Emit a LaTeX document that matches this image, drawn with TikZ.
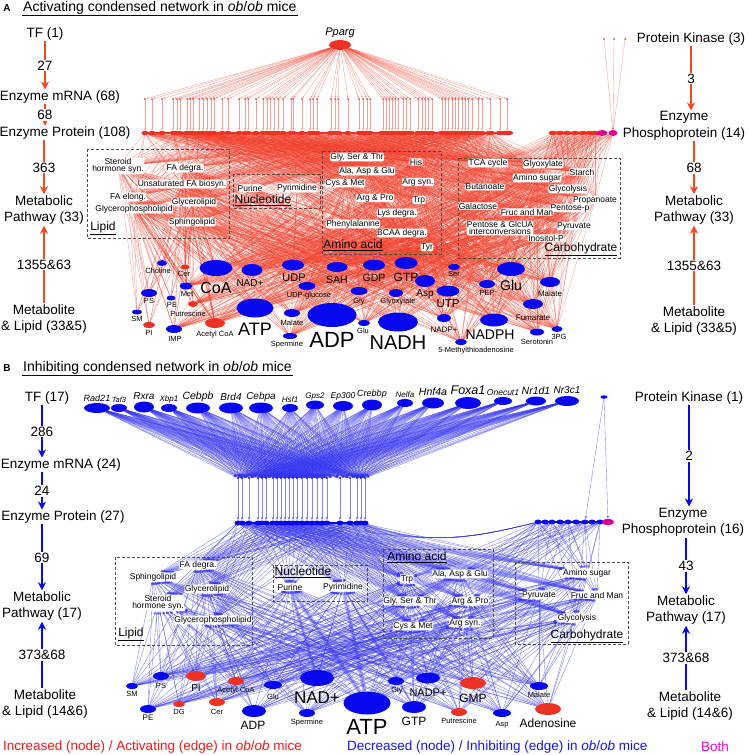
\documentclass[tikz,border=0pt]{standalone}
\usepackage{fontspec}
\setmainfont{Liberation Sans}
\usetikzlibrary{shapes.geometric,arrows.meta,backgrounds}

\definecolor{upred}{RGB}{236,50,36}
\definecolor{dnblue}{RGB}{8,8,238}
\definecolor{bothpink}{RGB}{222,0,140}
\definecolor{arrowred}{RGB}{246,72,32}
\definecolor{edgered}{RGB}{240,60,40}
\definecolor{edgeblue}{RGB}{50,50,240}
\definecolor{legred}{RGB}{250,20,20}
\definecolor{legblue}{RGB}{20,20,250}
\definecolor{legpink}{RGB}{235,0,215}

\tikzset{
  collab/.style={font=\fontsize{13.5}{16.5}\selectfont, align=center, inner sep=1pt},
  num/.style={font=\fontsize{13.5}{15}\selectfont, fill=white, inner sep=1pt},
  arrA/.style={draw=arrowred, line width=1.1pt, -{Stealth[length=8pt,width=8pt,inset=2.5pt]}},
  arrB/.style={draw=dnblue, line width=1.1pt, -{Stealth[length=8pt,width=8pt,inset=2.5pt]}},
  pw/.style={font=\fontsize{8.5}{7.5}\selectfont, fill=white, inner sep=0.4pt, rounded corners=2pt, align=center},
  grp/.style={draw=black!70, dash pattern=on 3pt off 2pt, line width=0.6pt},
  grplab/.style={font=\fontsize{12}{13}\selectfont, inner sep=0pt},
  met/.style={ellipse, inner sep=0pt, draw=none},
  upm/.style={met, fill=upred},
  dnm/.style={met, fill=dnblue},
  mtxt/.style={inner sep=0pt},
  tftxt/.style={inner sep=0pt, font=\itshape},
  mrnaA/.style={circle, fill=upred, inner sep=0pt, minimum size=2pt},
  protA/.style={ellipse, fill=upred, inner sep=0pt, minimum height=4.5pt, minimum width=7pt},
  mrnaB/.style={circle, fill=dnblue, inner sep=0pt, minimum size=2.4pt},
  protB/.style={ellipse, fill=dnblue, inner sep=0pt, minimum height=5pt, minimum width=7pt},
  pinkp/.style={ellipse, fill=bothpink, inner sep=0pt, minimum height=6pt, minimum width=11pt},
  eA/.style={draw=edgered, line width=0.35pt, opacity=0.5},
  eAt/.style={eA, -{Latex[length=2pt,width=1.6pt]}},
  eB/.style={draw=edgeblue, line width=0.4pt, opacity=0.6},
  eBt/.style={eB, -{Latex[length=3pt,width=2.4pt]}}
}

\def\pathA{aSter,aFAdeg,aUFA,aFAel,aGlyc,aGPL,aSph,aPur,aPyr,aGST,aHis,aAAG,aCM,aArgS,aAP,aTrp,aLys,aPhe,aBCAA,aTyr,aTCA,aGlyox,aStar,aAmS,aBut,aGlycol,aProp,aGal,aPenP,aFM,aPGI,aPyru,aIno}
\def\lippwA{aSter,aFAdeg,aUFA,aFAel,aGlyc,aGPL,aSph}
\def\carbA{aTCA,aGlyox,aStar,aAmS,aBut,aGlycol,aProp,aGal,aPenP,aFM,aPGI,aPyru,aIno}
\def\coreA{aCoA,aATP,aNAD,aUDP,aUDPG,aSAH,aGDP,aGTP,aGly,aGlyx,aAsp,aSer,aUTP,aMalL,aADP,aSpm,aGluS,aNADH,aNADPp,aMTA,aGluB,aPEP,aMalR,aFum,aNADPH,aSero,a3PG,aMet,aPut,aIMP,aAcCoA}
\def\lipmetA{aCho,aCer,aPS,aPE,aSM,aPI,aAcCoA,aMet,aCoA}
\def\pathB{bFA,bSph,bGlyc,bSter,bGPL,bPur,bPyr,bTrp,bAAG,bGST,bAP,bCM,bArgS,bAmS,bPyru,bFM,bGlycol}
\def\rightpwB{bTrp,bAAG,bGST,bAP,bCM,bArgS,bAmS,bPyru,bFM,bGlycol}
\def\metB{bSM,bPS,bPI,bAcCoA,bPE,bDG,bCer,bADP,bGlu,bNAD,bSpm,bATP,bGly,bNADPp,bGTP,bGMP,bPut,bAsp,bMal,bAdo}
\def\tfB{Rad21,Taf3,Rxra,Xbp1,Cebpb,Brd4,Cebpa,Hsf1,Gps2,Ep300,Crebbp,Nelfa,Hnf4a,Foxa1,Onecut1,Nr1d1,Nr3c1}

\begin{document}
\begin{tikzpicture}[x=1pt, y=-1pt]
\useasboundingbox (0,0) rectangle (748,755);

% ---------------- panel A ----------------
\node[font=\fontsize{10}{12}\selectfont\bfseries] (tagA) at (7,8) {A};
\node[anchor=west, font=\fontsize{14}{16}\selectfont, inner sep=1pt] (titA) at (22,8) {Activating condensed network in \textit{ob}/\textit{ob} mice};
\draw[line width=0.6pt] (titA.south west) -- (titA.south east);

% left column
\node[collab] (tfA) at (45,34) {TF (1)};
\node[collab] (mrA) at (60,97) {Enzyme mRNA (68)};
\node[collab] (prA) at (65,133) {Enzyme Protein (108)};
\node[collab] (pwA) at (44,210) {Metabolic\\Pathway (33)};
\node[collab] (mtA) at (44,319) {Metabolite\\\& Lipid (33\&5)};
\draw[arrA] (tfA.south) -- node[num]{27} (tfA.south |- mrA.north);
\draw[arrA] (tfA.south |- mrA.south) -- node[num]{68} (tfA.south |- prA.north);
\draw[arrA] (pwA.north |- prA.south) -- node[num]{363} (pwA.north);
\draw[arrA] (pwA.south |- mtA.north) -- node[num]{1355\&63} (pwA.south);

% right column
\node[collab] (pkA) at (691,39) {Protein Kinase (3)};
\node[collab] (ppA) at (684,126) {Enzyme\\Phosphoprotein (14)};
\node[collab] (pwAr) at (694,210) {Metabolic\\Pathway (33)};
\node[collab] (mtAr) at (694,321) {Metabolite\\\& Lipid (33\&5)};
\draw[arrA] (pkA.south) -- node[num]{3} (pkA.south |- ppA.north);
\draw[arrA] (pwAr.north |- ppA.south) -- node[num]{68} (pwAr.north);
\draw[arrA] (mtAr.north) -- node[num]{1355\&63} (pwAr.south);

% TF, mRNA and protein rows
\node[upm, minimum width=22pt, minimum height=10pt] (pparg) at (340,45) {};
\node[tftxt, font=\fontsize{11}{12}\selectfont\itshape] (ppargt) at (340,33) {Pparg};
\foreach \x/\w [count=\i] in {145/7,152/7,162/7,173/7,177/7,180/7,187/9,190/12,193/9,199/7,203/7,207/7,211/7,214/7,222/7,228/7,239/7,245/7,248/7,256/7,263/7,267/7,270/7,274/7,278/7,283/7,291/7,293/7,302/7,310/7,313/7,317/7,331/9,335/12,338/9,348/7,359/7,363/7,367/7,370/7,383/11,386/9,389/7,392/7,395/7,398/7,403/11,406/9,410/11,418/7,422/7,425/7,428/7,432/7,442/9,445/11,448/9,452/7,455/7,458/7,462/7,465/7,468/7,472/7,478/11,482/7,490/11,500/9,507/13} {
  \node[mrnaA] (mA\i) at (\x,99) {};
  \node[protA, minimum width=\w] (pA\i) at (\x,133) {};
}
\draw[upred, line width=2.5pt] (pA1.center) -- (pA69.center);
\foreach \x [count=\i] in {553,560,567,575,583,590,595} {
  \node[protA, minimum width=9pt] (rA\i) at (\x,133) {};
}
\draw[upred, line width=2pt] (rA1.center) -- (rA7.center);
\node[pinkp] (ppk1) at (602,133) {};
\node[pinkp, minimum width=9pt] (ppk2) at (613,133) {};
\foreach \x [count=\i] in {604,614,625} {
  \node[mrnaA] (kA\i) at (\x,39) {};
}

% groups A
\draw[grp] (87,149) rectangle (229,238);
\node[grplab] (lipA) at (103,228) {\underline{Lipid}};
\draw[grp] (233,174) rectangle (320,208);
\node[grplab] (nucA) at (263,200) {\underline{Nucleotide}};
\draw[grp] (322,151) rectangle (441,254);
\node[grplab] (amiA) at (353,245) {\underline{Amino acid}};
\draw[grp] (458,158) rectangle (620,258);
\node[grplab] (carA) at (581,249) {\underline{Carbohydrate}};

% pathways A
\node[pw] (aSter) at (118,166) {Steroid\\hormone syn.};
\node[pw] (aFAdeg) at (185,168) {FA degra.};
\node[pw] (aUFA) at (182,184) {Unsaturated FA biosyn.};
\node[pw] (aFAel) at (128,197) {FA elong.};
\node[pw] (aGlyc) at (194,202) {Glycerolipid};
\node[pw] (aGPL) at (134,209) {Glycerophospholipid};
\node[pw] (aSph) at (192,222) {Sphingolipid};
\node[pw] (aPur) at (250,188) {Purine};
\node[pw] (aPyr) at (297,188) {Pyrimidine};
\node[pw] (aGST) at (357,157) {Gly, Ser \& Thr};
\node[pw] (aHis) at (416,162) {His};
\node[pw] (aAAG) at (367,171) {Ala, Asp \& Glu};
\node[pw] (aCM) at (345,183) {Cys \& Met};
\node[pw] (aArgS) at (418,182) {Arg syn.};
\node[pw] (aAP) at (375,198) {Arg \& Pro};
\node[pw] (aTrp) at (419,200) {Trp};
\node[pw] (aLys) at (397,213) {Lys degra.};
\node[pw] (aPhe) at (353,224) {Phenylalanine};
\node[pw] (aBCAA) at (402,233) {BCAA degra.};
\node[pw] (aTyr) at (427,247) {Tyr};
\node[pw] (aTCA) at (488,163) {TCA cycle};
\node[pw] (aGlyox) at (543,164) {Glyoxylate};
\node[pw] (aStar) at (582,172) {Starch};
\node[pw] (aAmS) at (537,178) {Amino sugar};
\node[pw] (aBut) at (485,187) {Butanoate};
\node[pw] (aGlycol) at (568,189) {Glycolysis};
\node[pw] (aProp) at (595,200) {Propanoate};
\node[pw] (aGal) at (478,206) {Galactose};
\node[pw] (aPenP) at (570,208) {Pentose-p};
\node[pw] (aFM) at (527,212) {Fruc and Man};
\node[pw] (aPGI) at (500,228) {Pentose \& GlcUA\\interconversions};
\node[pw] (aPyru) at (574,226) {Pyruvate};
\node[pw] (aIno) at (546,238) {Inositol-P};

% metabolites A
\foreach \n/\x/\y/\w/\h/\c/\lx/\ly/\f/\t in {
  aCho/162/263/10/6/dnm/158/271/7.5/Choline, aCer/185/267/9/5/upm/184/274/7.5/Cer,
  aPS/149/293/16/8/dnm/149/301/7.5/PS, aPE/171/298/9/5/dnm/172/305/7.5/PE,
  aMet/186/286/13/7/dnm/187/294/7.5/Met, aCoA/216/268/33/16/dnm/216/288/16/CoA,
  aSM/137/312/10/5/dnm/137/319/7.5/SM, aPut/193/304/10/6/upm/188/314/7.5/Putrescine,
  aPI/149/325/12/6/upm/149/333/7.5/PI, aIMP/174/329/16/8/dnm/175/339/7.5/IMP,
  aAcCoA/215/323/20/10/upm/215/335/7.5/Acetyl CoA, aNAD/252/270/21/12/dnm/250/283/10/NAD+,
  aATP/255/308/37/19/dnm/255/329/18/ATP, aUDP/293/265/22/11/dnm/294/278/11/UDP,
  aUDPG/307/286/17/8/dnm/309/296/7.5/UDP-glucose, aSAH/337/267/21/10/dnm/337/280/10.5/SAH,
  aGDP/374/265/22/11/dnm/374/278/10.5/GDP, aGTP/406/263/23/12/dnm/406/277/12/GTP,
  aGly/359/291/17/8/dnm/359/302/7.5/Gly, aGlyx/396/293/14/8/dnm/398/302/7.5/Glyoxylate,
  aAsp/425/281/20/12/dnm/425/294/10/Asp, aSer/454/267/12/6/dnm/454/274/7.5/Ser,
  aUTP/448/291/23/11/dnm/448/304/11.5/UTP, aMalL/292/313/16/8/dnm/292/323/7.5/Malate,
  aADP/332/315/49/24/dnm/332/340/22/ADP, aSpm/290/336/14/6/dnm/287/345/7.5/Spermine,
  aGluS/364/323/12/6/dnm/363/331/7.5/Glu, aNADH/398/322/40/19/dnm/398/343/20/NADH,
  aNADPp/444/318/14/8/dnm/444/330/8/NADP+, aMTA/461/342/12/6/dnm/476/351/7.5/5-Methylthioadenosine,
  aGluB/511/269/28/14/dnm/511/285/14/Glu, aPEP/487/284/16/8/dnm/487/293/7.5/PEP,
  aMalR/550/282/20/10/dnm/550/294/8/Malate, aFum/533/304/20/10/dnm/533/318/8/Fumarate,
  aNADPH/494/320/28/13/dnm/490/335/14/NADPH, aSero/537/332/14/7/dnm/537/342/7.5/Serotonin,
  a3PG/557/329/11/6/dnm/559/337/7.5/3PG} {
  \node[\c, minimum width=\w, minimum height=\h] (\n) at (\x,\y) {};
  \node[mtxt, font=\fontsize{\f}{\f}\selectfont] (\n t) at (\lx,\ly) {\t};
}

% edges A
\begin{scope}[on background layer]
  \foreach \i in {1,...,69} {
    \draw[eAt] (pparg) -- (mA\i);
    \draw[eAt] (mA\i) -- (pA\i);
  }
  \foreach \i in {1,2,3} \draw[eAt] (kA\i) -- (ppk2);
  \foreach \i in {1,4,...,69} {
    \foreach \p in \pathA \draw[eA] (pA\i) -- (\p);
  }
  \foreach \i in {1,...,7} {
    \foreach \p in \carbA \draw[eA] (rA\i) -- (\p);
  }
  \foreach \p in \carbA {
    \draw[eA] (ppk1) -- (\p);
    \draw[eA] (ppk2) -- (\p);
  }
  \foreach \m in \coreA {
    \foreach \p in \pathA \draw[eA] (\m) -- (\p);
  }
  \foreach \m in \lipmetA {
    \foreach \p in \lippwA \draw[eA] (\m) -- (\p);
  }
\end{scope}

% ---------------- panel B ----------------
\node[font=\fontsize{10}{12}\selectfont\bfseries] (tagB) at (7,368) {B};
\node[anchor=west, font=\fontsize{14}{16}\selectfont, inner sep=1pt] (titB) at (22,368) {Inhibiting condensed network in \textit{ob}/\textit{ob} mice};
\draw[line width=0.6pt] (titB.south west) -- (titB.south east);

% left column
\node[collab] (tfB) at (47,398) {TF (17)};
\node[collab] (mrB) at (61,465) {Enzyme mRNA (24)};
\node[collab] (prB) at (63,517) {Enzyme Protein (27)};
\node[collab] (pwB) at (42,606) {Metabolic\\Pathway (17)};
\node[collab] (mtB) at (45,704) {Metabolite\\\& Lipid (14\&6)};
\draw[arrB] (tfB.south -| pwB.north) -- node[num]{286} (pwB.north |- mrB.north);
\draw[arrB] (pwB.north |- mrB.south) -- node[num]{24} (pwB.north |- prB.north);
\draw[arrB] (pwB.north |- prB.south) -- node[num]{69} (pwB.north);
\draw[arrB] (pwB.south |- mtB.north) -- node[num]{373\&68} (pwB.south);

% right column
\node[collab] (pkB) at (689,398) {Protein Kinase (1)};
\node[collab] (ppB) at (683,522) {Enzyme\\Phosphoprotein (16)};
\node[collab] (pwBr) at (686,610) {Metabolic\\Pathway (17)};
\node[collab] (mtBr) at (690,706) {Metabolite\\\& Lipid (14\&6)};
\draw[arrB] (pkB.south) -- node[num]{2} (pkB.south |- ppB.north);
\draw[arrB] (pwBr.north |- ppB.south) -- node[num]{43} (pwBr.north);
\draw[arrB] (pwBr.south |- mtBr.north) -- node[num]{373\&68} (pwBr.south);

% TF nodes B
\foreach \n/\x/\y/\w/\h/\f in {Rad21/97/408/26/10/9, Taf3/119/408/16/8/7.5, Rxra/144/407/20/11/10,
  Xbp1/169/408/16/8/8, Cebpb/198/408/24/11/10.5, Brd4/231/408/24/11/10, Cebpa/261/408/24/11/10,
  Hsf1/290/408/16/8/8, Gps2/315/405/18/9/8, Ep300/343/406/20/10/8.5, Crebbp/372/405/20/11/9,
  Nelfa/405/403/16/8/8, Hnf4a/433/403/22/11/10.5, Foxa1/468/403/26/12/12.5,
  Onecut1/503/401/18/8/8.5, Nr1d1/536/401/20/9/10.5, Nr3c1/567/401/24/10/10} {
  \node[dnm, minimum width=\w, minimum height=\h] (\n) at (\x,\y) {};
  \node[tftxt, font=\fontsize{\f}{\f}\selectfont\itshape] (\n t) at (\x,{\y-\h/2-0.55*\f}) {\n};
}
\node[dnm, minimum width=7pt, minimum height=3.5pt] (kB) at (604,397) {};

% mRNA and protein rows B
\foreach \x [count=\i] in {238,242,249,258,262,266,273,277,281,285,289,293,297,302,307,312,317,322,327,340,350,357,361,365} {
  \node[mrnaB] (mB\i) at (\x,478) {};
  \node[protB] (pB\i) at (\x,523) {};
}
\draw[dnblue, line width=2.5pt] (pB1.center) -- (pB24.center);
\foreach \x [count=\i] in {538,545,552,560,568,576,585,592,600} {
  \node[protB] (rB\i) at (\x,522) {};
}
\draw[dnblue, line width=2.5pt] (rB1.center) -- (rB9.center);
\node[pinkp, minimum width=12pt] (ppkB) at (608,522) {};

% groups B
\draw[grp] (115,557) rectangle (252,645);
\node[grplab] (lipB) at (131,634) {\underline{Lipid}};
\draw[grp] (273,565) rectangle (367,601);
\node[grplab] (nucB) at (303,572) {\underline{Nucleotide}};
\draw[grp] (383,549) rectangle (493,638);
\node[grplab] (amiB) at (417,557) {\underline{Amino acid}};
\draw[grp] (515,562) rectangle (628,644);
\node[grplab] (carB) at (587,636) {\underline{Carbohydrate}};

% pathways B
\node[pw] (bFA) at (198,565) {FA degra.};
\node[pw] (bSph) at (153,577) {Sphingolipid};
\node[pw] (bGlyc) at (207,589) {Glycerolipid};
\node[pw] (bSter) at (158,603) {Steroid\\hormone syn.};
\node[pw] (bGPL) at (213,620) {Glycerophospholipid};
\node[pw] (bPur) at (290,587) {Purine};
\node[pw] (bPyr) at (343,587) {Pyrimidine};
\node[pw] (bTrp) at (407,579) {Trp};
\node[pw] (bAAG) at (460,574) {Ala, Asp \& Glu};
\node[pw] (bGST) at (410,601) {Gly, Ser \& Thr};
\node[pw] (bAP) at (470,601) {Arg \& Pro};
\node[pw] (bCM) at (413,626) {Cys \& Met};
\node[pw] (bArgS) at (465,623) {Arg syn.};
\node[pw] (bAmS) at (587,573) {Amino sugar};
\node[pw] (bPyru) at (539,595) {Pyruvate};
\node[pw] (bFM) at (597,595) {Fruc and Man};
\node[pw] (bGlycol) at (577,618) {Glycolysis};

% metabolites B
\foreach \n/\x/\y/\w/\h/\c/\lx/\ly/\f/\t in {
  bSM/132/686/12/6/dnm/132/694/7.5/SM, bPS/161/676/16/8/dnm/161/686/7.5/PS,
  bPI/196/676/20/10/upm/196/688/10/PI, bAcCoA/236/681/16/8/upm/236/691/7.5/Acetyl CoA,
  bPE/148/709/16/8/dnm/148/718/8/PE, bDG/179/704/12/6/upm/179/712/7.5/DG,
  bCer/217/702/16/8/upm/217/712/7.5/Cer, bADP/254/711/24/12/dnm/253/725/12/ADP,
  bGlu/273/685/18/8/dnm/273/697/7.5/Glu, bNAD/317/678/34/16/dnm/317/698/17/NAD+,
  bSpm/307/713/16/8/dnm/307/723/7.5/Spermine, bATP/367/703/47/23/dnm/367/727/22/ATP,
  bGly/396/681/16/8/dnm/397/691/7.5/Gly, bNADPp/428/678/24/11/dnm/428/693/11/NADP+,
  bGTP/414/707/24/12/dnm/414/721/12/GTP, bGMP/473/683/26/12/upm/473/698/12/GMP,
  bPut/459/712/16/8/upm/459/721/7.5/Putrescine, bAsp/502/713/18/8/dnm/502/725/7.5/Asp,
  bMal/539/686/18/8/dnm/539/695/7.5/Malate, bAdo/548/709/26/12/upm/548/723/12/Adenosine} {
  \node[\c, minimum width=\w, minimum height=\h] (\n) at (\x,\y) {};
  \node[mtxt, font=\fontsize{\f}{\f}\selectfont] (\n t) at (\lx,\ly) {\t};
}

% edges B
\begin{scope}[on background layer]
  \foreach \t in \tfB {
    \foreach \i in {1,...,24} \draw[eBt] (\t) -- (mB\i);
  }
  \foreach \i in {1,...,24} \draw[eBt] (mB\i) -- (pB\i);
  \draw[eBt] (kB) -- (rB7);
  \draw[eBt] (kB) -- (ppkB);
  \foreach \i in {1,3,...,24} {
    \foreach \p in \pathB \draw[eBt] (pB\i) -- (\p);
  }
  \foreach \i in {1,3,...,9} {
    \foreach \p in \rightpwB \draw[eBt] (rB\i) -- (\p);
  }
  \foreach \i in {18,...,24} \draw[eB] (pB\i) .. controls (430,548) and (480,536) .. (rB1);
  \foreach \m in \metB {
    \foreach \p in \pathB \draw[eBt] (\m) -- (\p);
  }
  \draw[eB, line width=4pt, opacity=0.35] (bATP) -- (bPur);
  \draw[eB, line width=4pt, opacity=0.35] (bATP) -- (bPyr);
  \draw[eB, line width=3pt, opacity=0.35] (bNAD) -- (bPur);
  \draw[eB, line width=2pt, opacity=0.35] (bGTP) -- (bPyr);
\end{scope}

% legend
\node[anchor=west, font=\fontsize{13.5}{15}\selectfont, text=legred, inner sep=0pt] (legUp) at (3,747) {Increased (node) / Activating (edge) in \textit{ob}/\textit{ob} mice};
\node[anchor=west, font=\fontsize{13.5}{15}\selectfont, text=legblue, inner sep=0pt] (legDn) at (347,747) {Decreased (node) / Inhibiting (edge) in \textit{ob}/\textit{ob} mice};
\node[font=\fontsize{13.5}{15}\selectfont, text=legpink, inner sep=0pt] (legBoth) at (715,747) {Both};
\end{tikzpicture}
\end{document}
